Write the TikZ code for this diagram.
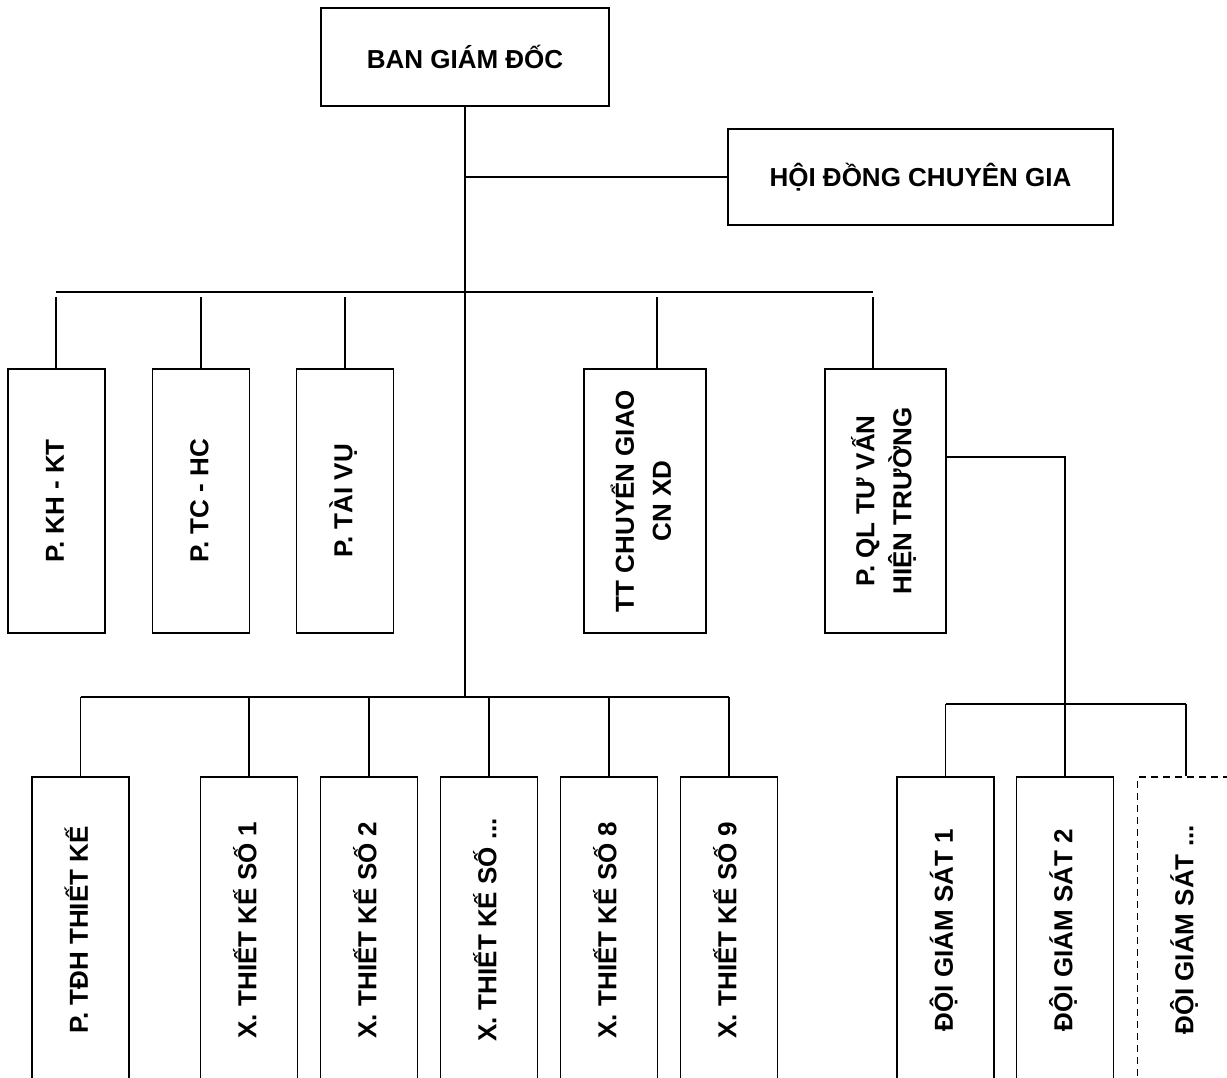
\documentclass[tikz,border=0pt]{standalone}
\usepackage{fontspec}
\setmainfont{Liberation Sans}
\usetikzlibrary{calc}
\newcommand{\vlabel}[1]{\rotatebox{90}{\begin{tabular}{@{}c@{}}#1\end{tabular}}}

\begin{document}
\begin{tikzpicture}[x=1pt,y=-1pt,line width=1.8pt,
  every node/.style={font=\bfseries\fontsize{26}{37}\selectfont},
  upbox/.style={draw,inner sep=0pt,minimum width=97pt,minimum height=264pt},
  lowbox/.style={draw,inner sep=0pt,minimum width=97pt,minimum height=306pt}]
  \useasboundingbox (0,0) rectangle (1227,1077);
  \clip (0,0) rectangle (1227,1077);
  % top level
  \node[draw,inner sep=0pt,minimum width=288pt,minimum height=98pt] (bgd) at (465,57) {BAN GIÁM ĐỐC};
  \node[draw,inner sep=0pt,minimum width=385pt,minimum height=96pt] (hdcg) at (920.5,177) {HỘI ĐỒNG CHUYÊN GIA};
  % phong ban
  \node[upbox] (kh) at (56.5,501) {\vlabel{P. KH - KT}};
  \node[upbox] (tc) at (201,501) {\vlabel{P. TC - HC}};
  \node[upbox] (tv) at (345,501) {\vlabel{P. TÀI VỤ}};
  \node[upbox,minimum width=122pt] (tt) at (645,501) {\vlabel{TT CHUYỂN GIAO\\CN XD}};
  \node[upbox,minimum width=121pt] (ql) at (885.5,501) {\vlabel{P. QL TƯ VẤN\\HIỆN TRƯỜNG}};
  % xuong thiet ke
  \foreach \n/\x/\t in {tdh/80.5/{P. TĐH THIẾT KẾ},x1/249/{X. THIẾT KẾ SỐ 1},x2/369/{X. THIẾT KẾ SỐ 2},
      xn/489/{X. THIẾT KẾ SỐ ...},x8/609/{X. THIẾT KẾ SỐ 8},x9/729/{X. THIẾT KẾ SỐ 9}}
    \node[lowbox] (\n) at (\x,930) {\vlabel{\t}};
  % doi giam sat
  \node[lowbox] (ds1) at (945.5,930) {\vlabel{ĐỘI GIÁM SÁT 1}};
  \node[lowbox] (ds2) at (1065,930) {\vlabel{ĐỘI GIÁM SÁT 2}};
  \node[lowbox,dashed,dash pattern=on 7pt off 5pt,line width=1.5pt] (dsn) at (1186,930) {\vlabel{ĐỘI GIÁM SÁT ...}};
  % connectors
  \coordinate (lowbus) at (465,697);
  \draw (bgd.south) -- (lowbus);
  \draw (bgd.south |- hdcg.west) -- (hdcg.west);
  \draw (56,292) -- (873,292);
  \foreach \n/\x in {kh/56,tc/201,tv/345,tt/657,ql/873}
    \draw (\x,297) -- (\x,0 |- \n.north);
  \draw (tdh.north |- lowbus) -- (x9.north |- lowbus);
  \foreach \n in {tdh,x1,x2,xn,x8,x9}
    \draw (\n.north |- lowbus) -- (\n.north);
  \draw (ql.east |- 0,457) -| (ds2.north |- 0,704);
  \draw (ds1.north |- 0,704) -- (dsn.north |- 0,704);
  \foreach \n in {ds1,ds2,dsn}
    \draw (\n.north |- 0,704) -- (\n.north);
\end{tikzpicture}
\end{document}
